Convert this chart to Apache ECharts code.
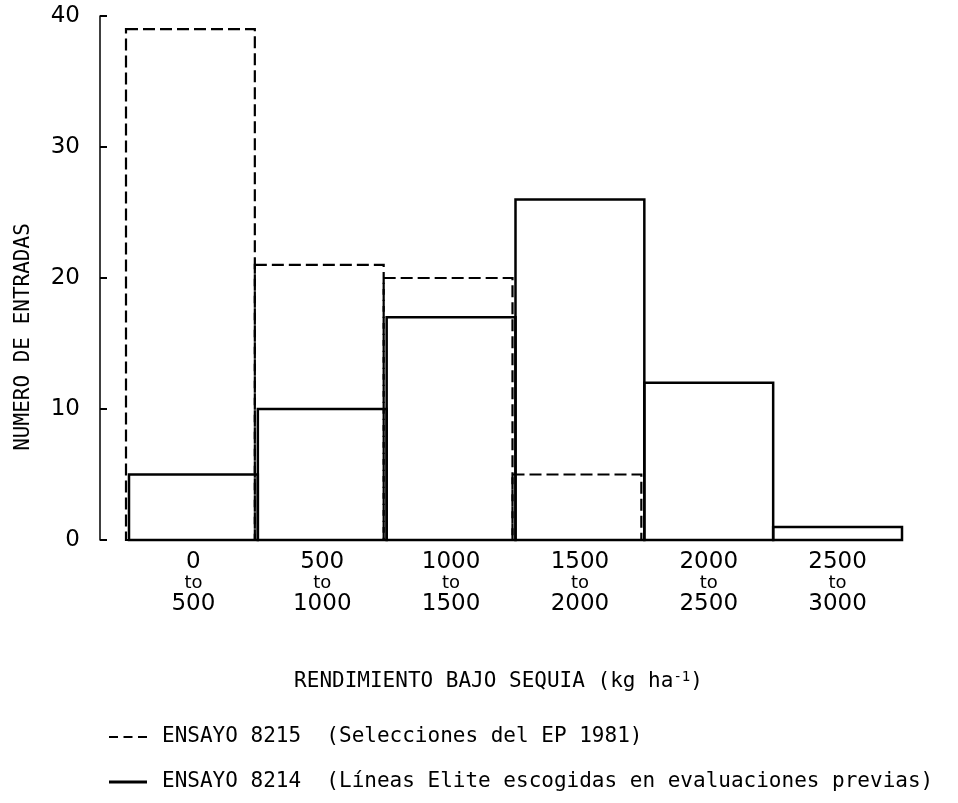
<!DOCTYPE html>
<html>
<head>
<meta charset="utf-8">
<script src="https://cdn.jsdelivr.net/npm/echarts@6/dist/echarts.min.js"></script>
<style>
html,body{margin:0;padding:0;background:#fff;}
#chart{width:958px;height:803px;}
</style>
</head>
<body>
<div id="chart"></div>
<script>
// ---- data ----
const binLow  = ['0', '500', '1000', '1500', '2000', '2500'];
const binHigh = ['500', '1000', '1500', '2000', '2500', '3000'];
const ensayo8215 = [39, 21, 20, 5, null, null];   // dashed
const ensayo8214 = [5, 10, 17, 26, 12, 1];        // solid
const yTicks = [0, 10, 20, 30, 40];
const seriesNames = ['ENSAYO 8215', 'ENSAYO 8214'];
const seriesNotes = ['(Selecciones del EP 1981)', '(Líneas Elite escogidas en evaluaciones previas)'];
const xTitle = 'RENDIMIENTO BAJO SEQUIA (kg ha';
const yTitle = 'NUMERO DE ENTRADAS';

const categories = binLow.map((l, i) => l + ' to ' + binHigh[i]);
const MONO = '"DejaVu Sans Mono", monospace';
const SANS = '"DejaVu Sans", sans-serif';

function histRender(dx, lw, dash) {
  return function (params, api) {
    const v = api.value(1);
    if (v == null || isNaN(v)) return null;
    const i = api.value(0);
    const p0 = api.coord([i, 0]);
    const p1 = api.coord([i, v]);
    const w = api.size([1, 0])[0];
    return {
      type: 'rect',
      shape: { x: p0[0] - w / 2 + dx, y: p1[1], width: w, height: p0[1] - p1[1] },
      style: { fill: 'none', stroke: '#000', lineWidth: lw, lineDash: dash }
    };
  };
}

const chart = echarts.init(document.getElementById('chart'), null, { renderer: 'canvas' });
chart.setOption({
  backgroundColor: '#fff',
  animation: false,
  grid: { left: 129, right: 56, top: 16, bottom: 263, containLabel: false },
  xAxis: {
    type: 'category',
    data: categories,
    boundaryGap: true,
    axisLine: { show: true, lineStyle: { color: '#000', width: 2 } },
    axisTick: { show: false },
    splitLine: { show: false },
    axisLabel: {
      interval: 0,
      margin: 12,
      formatter: function (val, idx) {
        return '{n|' + binLow[idx] + '}\n{t|to}\n{n|' + binHigh[idx] + '}';
      },
      rich: {
        n: { fontFamily: SANS, fontSize: 23, color: '#000', lineHeight: 21 },
        t: { fontFamily: SANS, fontSize: 18, color: '#000', lineHeight: 21 }
      }
    },
    name: xTitle + '{s|-1})',
    nameLocation: 'middle',
    nameGap: 130,
    nameTextStyle: {
      fontFamily: MONO, fontSize: 21, color: '#000',
      padding: [0, 34, 0, 0],
      rich: { s: { fontFamily: MONO, fontSize: 14, color: '#000', verticalAlign: 'top', padding: [0, 0, 10, 0] } }
    }
  },
  yAxis: {
    type: 'value',
    min: 0, max: 40, interval: 10,
    offset: 29,
    axisLine: { show: true, lineStyle: { color: '#000', width: 1.5 } },
    axisTick: { show: true, inside: true, length: 7, lineStyle: { color: '#000', width: 2 } },
    splitLine: { show: false },
    axisLabel: {
      margin: 20, color: '#000', fontFamily: SANS, fontSize: 23,
      formatter: function (v) { return yTicks.indexOf(v) >= 0 ? String(v) : ''; }
    },
    name: yTitle,
    nameLocation: 'middle',
    nameRotate: 90,
    nameGap: 66,
    nameTextStyle: { fontFamily: MONO, fontSize: 21, color: '#000', padding: [0, 118, 0, 0] }
  },
  legend: {
    orient: 'vertical',
    left: 109,
    top: 725,
    padding: 0,
    height: 76,
    itemGap: 21,
    itemWidth: 38,
    itemHeight: 3,
    selectedMode: false,
    textStyle: { fontFamily: MONO, fontSize: 21, color: '#000', lineHeight: 24, padding: [0, 0, 0, 10] },
    formatter: function (name) {
      const i = seriesNames.indexOf(name);
      return name + '  ' + seriesNotes[i];
    },
    data: [
      { name: seriesNames[0], icon: 'path://M0,0h9v2h-9z M14.5,0h9v2h-9z M29,0h9v2h-9z', itemStyle: { color: '#000' } },
      { name: seriesNames[1], icon: 'rect', itemStyle: { color: '#000' } }
    ]
  },
  series: [
    {
      name: seriesNames[0],
      type: 'custom',
      z: 2,
      itemStyle: { color: '#000' },
      renderItem: histRender(-3, 2.2, [12, 5]),
      data: ensayo8215.map((v, i) => [i, v])
    },
    {
      name: seriesNames[1],
      type: 'custom',
      z: 3,
      itemStyle: { color: '#000' },
      renderItem: histRender(0, 2.5, null),
      data: ensayo8214.map((v, i) => [i, v])
    }
  ]
});
</script>
</body>
</html>
